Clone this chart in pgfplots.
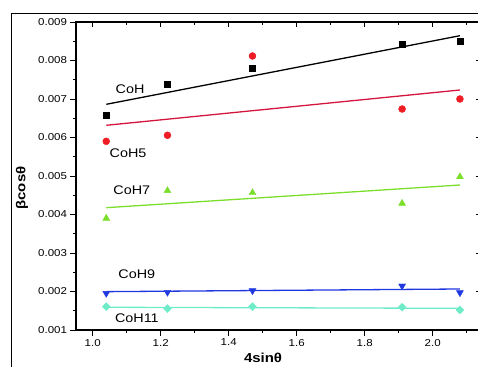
\documentclass[border=0pt]{standalone}
\usepackage{pgfplots}
\pgfplotsset{compat=1.18}
\usepackage{fontspec}
\setmainfont{Liberation Sans}[FakeStretch=1.15]
\definecolor{cred}{RGB}{238,28,36}
\definecolor{credline}{RGB}{212,22,62}
\definecolor{cgreen}{RGB}{124,222,44}
\definecolor{cblue}{RGB}{32,56,224}
\definecolor{ccyan}{RGB}{110,236,200}
\pgfplotsset{
  myaxis/.style={
    scale only axis,
    width=405pt, height=308pt,
    xmin=0.951, xmax=2.142, ymin=0.001, ymax=0.009,
    axis line style={line width=1.1pt},
    every tick/.style={black, line width=0.9pt},
    major tick length=5.5pt, minor tick length=3pt,
    xtick={1.0,1.2,1.4,1.6,1.8,2.0},
    minor xtick={1.1,1.3,1.5,1.7,1.9,2.1},
    ytick={0.001,0.002,0.003,0.004,0.005,0.006,0.007,0.008,0.009},
    minor ytick={0.0015,0.0025,0.0035,0.0045,0.0055,0.0065,0.0075,0.0085},
    scaled x ticks=false, scaled y ticks=false,
    ticklabel style={font=\fontsize{10}{12}\selectfont},
    /pgf/number format/assume math mode=true,
    clip=false,
  }
}
\begin{document}
\begin{tikzpicture}
\begin{axis}[myaxis, name=a,
  xtick pos=bottom, ytick pos=left, tick align=outside,
  xticklabels={1.0,1.2,1.4,1.6,1.8,2.0},
  yticklabels={0.001,0.002,0.003,0.004,0.005,0.006,0.007,0.008,0.009},
]
% CoH
\addplot[black, line width=1.3pt] coordinates {(1.04,0.006862) (2.08,0.008644)};
\addplot[only marks, mark=square*, mark size=3pt, black] coordinates {(1.04,0.006577) (1.22,0.007382) (1.47,0.007797) (1.91,0.008436) (2.08,0.008499)};
% CoH5
\addplot[credline, line width=1.3pt] coordinates {(1.04,0.006317) (2.08,0.007234)};
\addplot[only marks, mark=*, mark size=3.5pt, cred] coordinates {(1.04,0.005901) (1.22,0.006057) (1.47,0.008117) (1.91,0.006740) (2.08,0.007000)};
% CoH7
\addplot[cgreen, line width=1.3pt] coordinates {(1.04,0.004177) (2.08,0.004766)};
\addplot[only marks, mark=triangle*, mark size=4pt, cgreen] coordinates {(1.04,0.003901) (1.22,0.004619) (1.47,0.004566) (1.91,0.004290) (2.08,0.004980)};
% CoH9
\addplot[cblue, line width=1.3pt] coordinates {(1.04,0.001996) (2.08,0.002065)};
\addplot[only marks, mark=triangle*, mark size=4pt, mark options={rotate=180}, cblue] coordinates {(1.04,0.001953) (1.22,0.001980) (1.47,0.002021) (1.91,0.002143) (2.08,0.001969)};
% CoH11
\addplot[ccyan, line width=1.3pt] coordinates {(1.04,0.001590) (2.08,0.001563)};
\addplot[only marks, mark=diamond*, mark size=4pt, mark options={xscale=1.3}, ccyan] coordinates {(1.04,0.001606) (1.22,0.001553) (1.47,0.001606) (1.91,0.001590) (2.08,0.001520)};
% labels
\node[font=\fontsize{12.5}{14}\selectfont] at (axis cs:1.110,0.007260) {CoH};
\node[font=\fontsize{12.5}{14}\selectfont] at (axis cs:1.104,0.005597) {CoH5};
\node[font=\fontsize{12.5}{14}\selectfont] at (axis cs:1.115,0.004636) {CoH7};
\node[font=\fontsize{12.5}{14}\selectfont] at (axis cs:1.130,0.002455) {CoH9};
\node[font=\fontsize{12.5}{14}\selectfont] at (axis cs:1.130,0.001312) {CoH11};
\end{axis}
\begin{axis}[myaxis, at={(a.south west)}, anchor=south west,
  xtick pos=top, ytick pos=right, tick align=inside,
  xticklabels={}, yticklabels={},
]
\end{axis}
\begin{scope}[shift={(a.south west)}, x=1pt, y=1pt]
\pgfresetboundingbox
\useasboundingbox (-76,-36) rectangle (402,330);
\draw[line width=1.6pt] (-64.5,-50) -- (-64.5,316.5) -- (420,316.5);
\node[rotate=90, font=\bfseries\fontsize{13}{15}\selectfont] at (-54,142) {βcosθ};
\node[font=\bfseries\fontsize{13}{15}\selectfont] at (187,-28) {4sinθ};
\end{scope}
\end{tikzpicture}
\end{document}
